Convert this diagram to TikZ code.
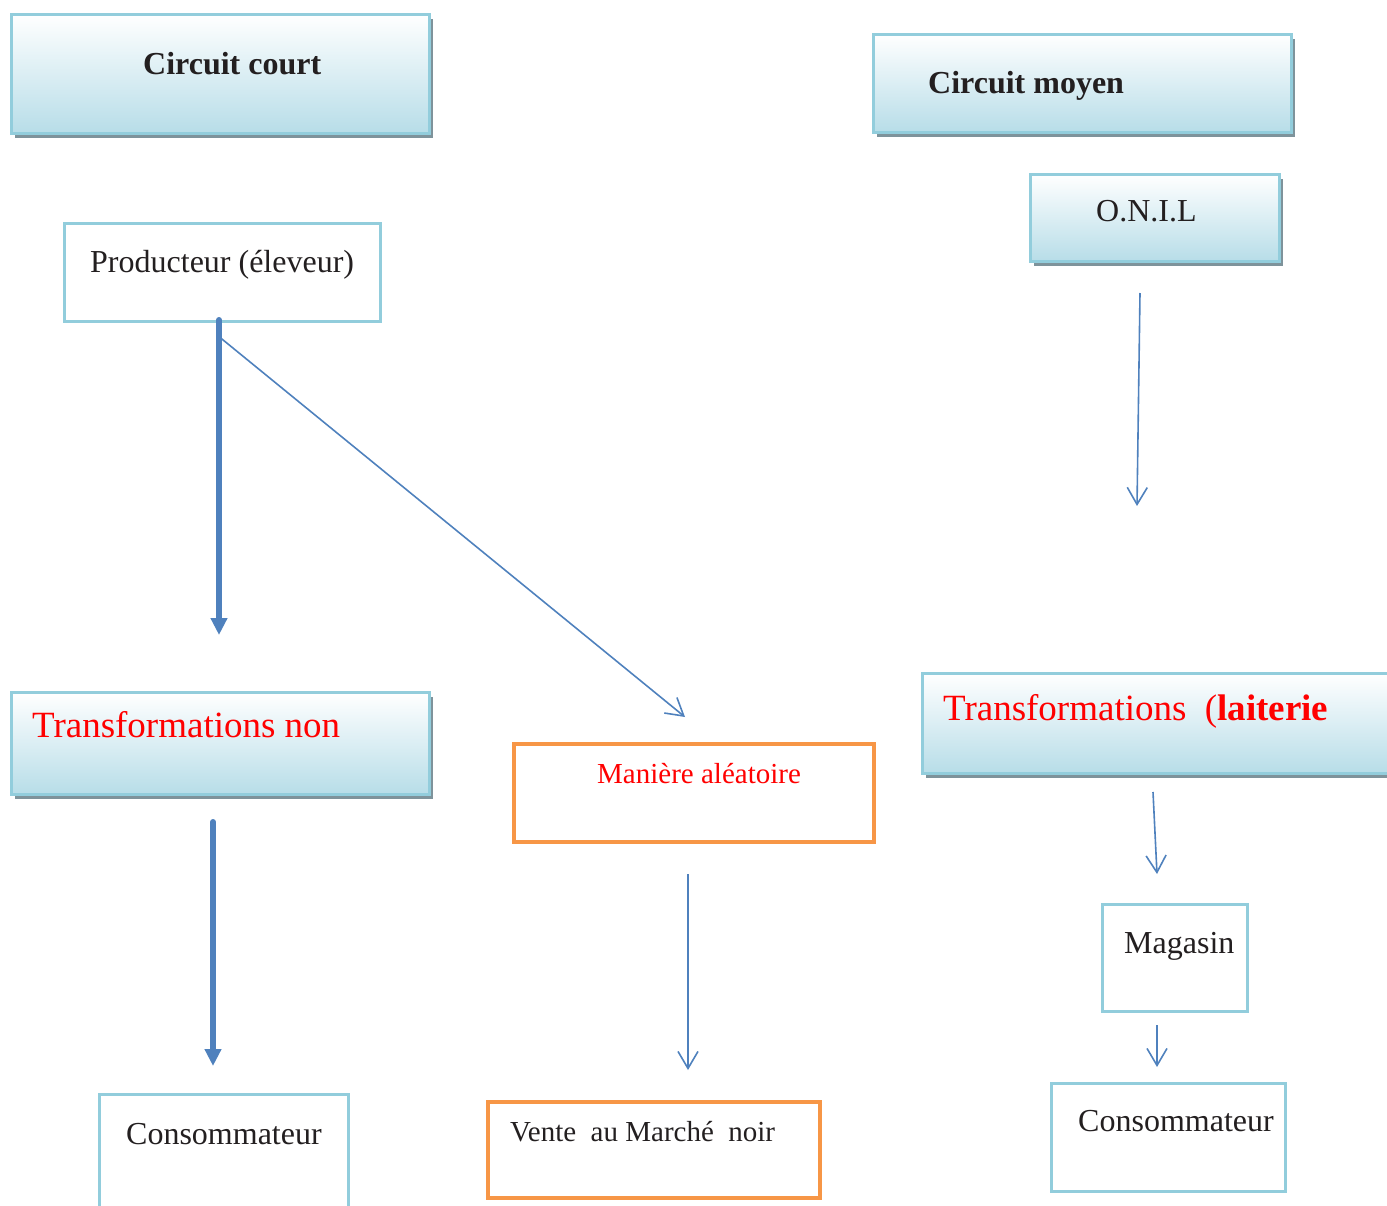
\documentclass[tikz,border=0pt]{standalone}
\usepackage{fontspec}
\setmainfont{Liberation Serif}
\usetikzlibrary{arrows.meta,shadows}
\definecolor{bordc}{HTML}{92CDDC}
\definecolor{gradc}{HTML}{B7DDE8}
\definecolor{shadc}{HTML}{7E939B}
\definecolor{arrc}{HTML}{4F81BD}
\definecolor{orc}{HTML}{F79646}
\definecolor{txtc}{HTML}{231F20}
\definecolor{redc}{HTML}{FF0000}
\tikzset{
  gbox/.style={draw=bordc, line width=3pt, top color=white, bottom color=gradc,
    anchor=north west, inner sep=0pt,
    drop shadow={shadow xshift=3pt, shadow yshift=-4pt, fill=shadc, opacity=1}},
  pbox/.style={draw=bordc, line width=2.5pt, fill=white, anchor=north west, inner sep=0pt},
  obox/.style={draw=orc, line width=4pt, fill=white, anchor=north west, inner sep=0pt},
  lbl/.style={anchor=base west, inner sep=0pt, text=txtc, font=\fontsize{32}{38}\selectfont},
  rlbl/.style={anchor=base west, inner sep=0pt, text=redc, font=\fontsize{37}{44}\selectfont},
  slbl/.style={anchor=base west, inner sep=0pt, font=\fontsize{29}{35}\selectfont},
  thickarr/.style={draw=arrc, line width=6pt, line cap=round, -{Triangle[length=17pt,width=16pt]}},
  thinarr/.style={draw=arrc, line width=1.6pt, -{Straight Barb[length=17pt,width=20pt,line width=1.6pt]}}
}
\begin{document}
\begin{tikzpicture}[x=1pt,y=-1pt]
\useasboundingbox (0,0) rectangle (1387,1205);
% boxes
\node[gbox, minimum width=418pt, minimum height=119pt] (cc) at (10,13) {};
\node[gbox, minimum width=418pt, minimum height=98pt] (cm) at (872,33) {};
\node[gbox, minimum width=249pt, minimum height=87pt] (onil) at (1029,173) {};
\node[pbox, minimum width=316pt, minimum height=98pt] (prod) at (63,222) {};
\node[gbox, minimum width=418pt, minimum height=102pt] (tnon) at (10,691) {};
\node[obox, minimum width=360pt, minimum height=98pt] (mal) at (512,742) {};
\node[gbox, minimum width=480pt, minimum height=100pt] (tlai) at (921,672) {};
\node[pbox, minimum width=145pt, minimum height=107pt] (mag) at (1101,903) {};
\node[pbox, minimum width=249pt, minimum height=140pt] (cons1) at (98,1093) {};
\node[obox, minimum width=332pt, minimum height=96pt] (vente) at (486,1100) {};
\node[pbox, minimum width=234pt, minimum height=108pt] (cons2) at (1050,1082) {};
% labels
\node[lbl] (tcc) at (143,74) {\textbf{Circuit court}};
\node[lbl] (tcm) at (928,93) {\textbf{Circuit moyen}};
\node[lbl] (tonil) at (1096,221) {O.N.I.L};
\node[lbl] (tprod) at (90,272) {Producteur (éleveur)};
\node[rlbl] (ttnon) at (32,737) {Transformations non};
\node[slbl, text=redc] (tmal) at (597,783) {Manière aléatoire};
\node[rlbl] (ttlai) at (943,720) {Transformations\ \ (\textbf{laiterie}};
\node[lbl] (tmag) at (1124,953) {Magasin};
\node[lbl] (tcons1) at (126,1144) {Consommateur};
\node[slbl, text=txtc] (tvente) at (510,1141) {Vente\ \ au Marché\ \ noir};
\node[lbl] (tcons2) at (1078,1131) {Consommateur};
% connector ends
\coordinate (a1s) at (219,320);
\coordinate (a1e) at (219,635);
\coordinate (a2s) at (217,335);
\coordinate (a2e) at (685,717);
\coordinate (a3s) at (213,822);
\coordinate (a3e) at (213,1066);
\coordinate (a4s) at (688,874);
\coordinate (a4e) at (688,1070);
\coordinate (a5s) at (1140,293);
\coordinate (a5e) at (1137,506);
\coordinate (a6s) at (1153,792);
\coordinate (a6e) at (1157,874);
\coordinate (a7s) at (1157,1025);
\coordinate (a7e) at (1157,1067);
% connectors
\draw[thickarr] (a1s) -- (a1e);
\draw[thinarr] (a2s) -- (a2e);
\draw[thickarr] (a3s) -- (a3e);
\draw[thinarr] (a4s) -- (a4e);
\draw[thinarr] (a5s) -- (a5e);
\draw[thinarr] (a6s) -- (a6e);
\draw[thinarr] (a7s) -- (a7e);
\end{tikzpicture}
\end{document}
